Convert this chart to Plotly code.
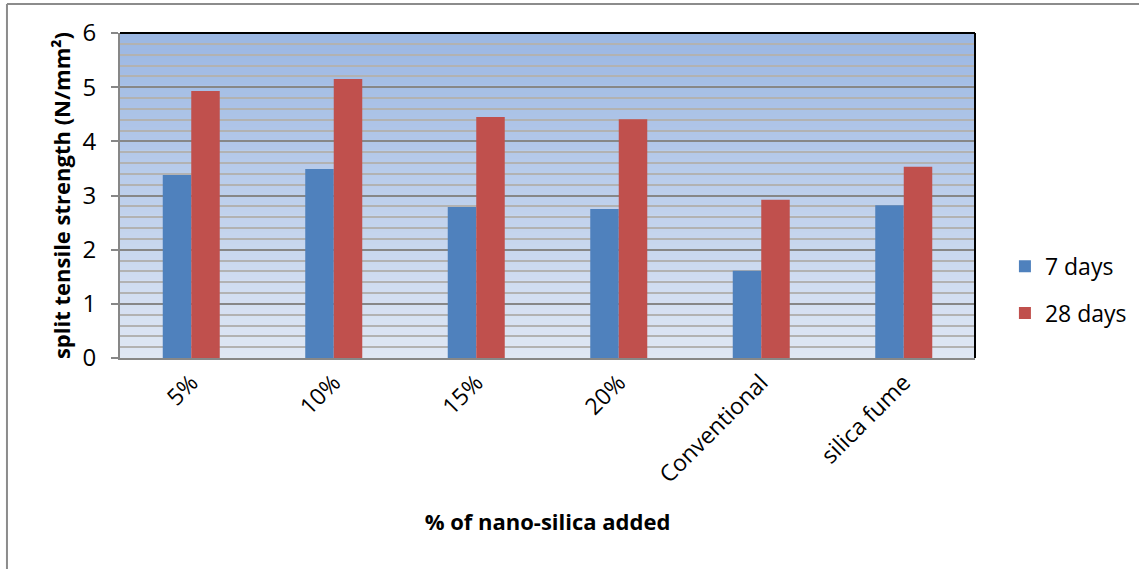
import plotly.graph_objects as go

# Split tensile strength results
categories = ["5%", "10%", "15%", "20%", "Conventional", "silica fume"]
days_7 = [3.38, 3.49, 2.79, 2.75, 1.61, 2.82]
days_28 = [4.93, 5.15, 4.45, 4.41, 2.92, 3.53]

BLUE = "#4f81bd"
RED = "#c0504d"
FONT = "Open Sans"

fig = go.Figure()
fig.add_trace(go.Bar(name="7 days", x=categories, y=days_7,
                     marker=dict(color=BLUE, line=dict(width=0)),
                     legendgroup="a"))
fig.add_trace(go.Bar(name="28 days", x=categories, y=days_28,
                     marker=dict(color=RED, line=dict(width=0)),
                     legendgroup="b"))

# Vertical gradient fill of the plotting area (dark blue top -> pale bottom)
top_rgb = (155, 183, 227)
bot_rgb = (223, 231, 244)
n_bands = 80
shapes = []
for i in range(n_bands):
    t = i / (n_bands - 1)
    r = round(bot_rgb[0] + (top_rgb[0] - bot_rgb[0]) * t)
    g = round(bot_rgb[1] + (top_rgb[1] - bot_rgb[1]) * t)
    b = round(bot_rgb[2] + (top_rgb[2] - bot_rgb[2]) * t)
    shapes.append(dict(type="rect", xref="x domain", yref="y domain",
                       x0=0, x1=1, y0=i / n_bands, y1=(i + 1) / n_bands + 0.002,
                       fillcolor=f"rgb({r},{g},{b})", line=dict(width=0),
                       layer="below"))

# Black frame lines on top and right of the plot area
shapes.append(dict(type="line", xref="x domain", yref="y domain",
                   x0=0, x1=1, y0=1, y1=1, line=dict(color="black", width=2),
                   layer="above"))
shapes.append(dict(type="line", xref="x domain", yref="y domain",
                   x0=1, x1=1, y0=0, y1=1, line=dict(color="black", width=2),
                   layer="above"))

# Outer chart border (top and left edges)
shapes.append(dict(type="line", xref="paper", yref="paper",
                   x0=-0.1322, x1=1.2, y0=1.0892, y1=1.0892,
                   line=dict(color="#8c8c8c", width=2), layer="above"))
shapes.append(dict(type="line", xref="paper", yref="paper",
                   x0=-0.1322, x1=-0.1322, y0=1.0892, y1=-0.7,
                   line=dict(color="#8c8c8c", width=2), layer="above"))

fig.update_layout(
    width=1139, height=569,
    margin=dict(l=120, r=164, t=33, b=211, autoexpand=False),
    paper_bgcolor="white",
    plot_bgcolor="white",
    barmode="group",
    bargap=0.6,
    bargroupgap=0,
    shapes=shapes,
    font=dict(family=FONT, color="black"),
    legend=dict(x=1.035, y=0.21, xanchor="left", yanchor="middle",
                font=dict(size=23, family=FONT), tracegroupgap=14,
                traceorder="grouped", bgcolor="rgba(0,0,0,0)"),
)

fig.update_yaxes(
    range=[0, 6], dtick=1, tick0=0,
    showgrid=True, gridcolor="#878787", gridwidth=2,
    minor=dict(dtick=0.2, showgrid=True, gridcolor="#b2b2b2", gridwidth=1.5),
    showline=True, linecolor="#878787", linewidth=2,
    ticks="outside", ticklen=7, tickwidth=2, tickcolor="#878787",
    ticklabelstandoff=10,
    tickfont=dict(size=24, family=FONT),
    zeroline=False,
    title=dict(text="<b>split tensile strength (N/mm²)</b>",
               font=dict(size=22, family=FONT), standoff=6),
)

fig.update_xaxes(
    showgrid=False,
    showline=True, linecolor="#878787", linewidth=2,
    ticks="",
    tickangle=-45,
    tickfont=dict(size=23, family=FONT),
    title=dict(text="<b>% of nano-silica added</b>",
               font=dict(size=22, family=FONT), standoff=26),
)

fig.write_html("out.html")
